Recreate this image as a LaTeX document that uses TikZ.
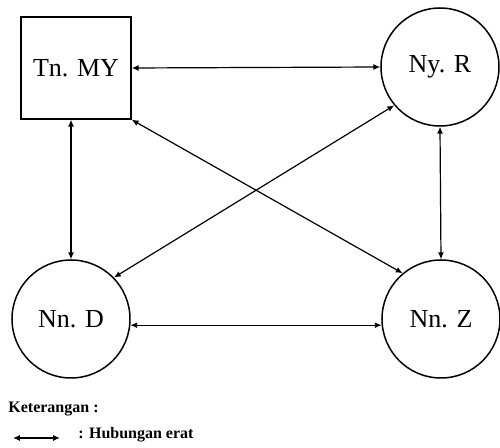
\documentclass[tikz,border=0pt]{standalone}
\usepackage{fontspec}
\setmainfont{Liberation Serif}
\usepackage{tikz}
\usetikzlibrary{positioning, arrows.meta}

\tikzset{
  person/.style={draw, line width=0.75pt, circle, minimum size=59pt, inner sep=0pt, font=\fontsize{13}{15}\selectfont},
  head/.style={draw, line width=0.75pt, rectangle, minimum width=55pt, minimum height=51pt, inner sep=0pt, font=\fontsize{13}{15}\selectfont},
  link/.style={{Latex[length=3.4pt,width=3pt]}-{Latex[length=3.4pt,width=3pt]}, line width=0.6pt},
  note/.style={anchor=west, inner sep=0pt, font=\fontsize{8}{9.5}\selectfont\bfseries}
}

\begin{document}
\begin{tikzpicture}[x=0.5pt, y=-0.5pt]
    \useasboundingbox (0,0) rectangle (500,448);

    % Family members
    \node[head]   (my) at (76,68)   {Tn. MY};
    \node[person] (r)  at (440,67)  {Ny. R};
    \node[person] (d)  at (71,319)  {Nn. D};
    \node[person] (z)  at (441,319) {Nn. Z};

    % Relations
    \draw[link] (my.east) -- (r.west);
    \draw[link] (my.south -| d.north) -- (d.north);
    \draw[link] (r.south) -- (z.north);
    \draw[link] (d.-6) -- (z.186);
    \draw[link] (my.south east) -- (z.130);
    \draw[link] (r.220) -- (d.44);

    % Legend
    \node[note] (ket) at (8,409) {Keterangan :};
    \coordinate (la) at (13,438);
    \coordinate (lb) at (60,438);
    \draw[link, line width=0.8pt] (la) -- (lb);
    \node[note] (hub) at (78,435) {: Hubungan erat};
\end{tikzpicture}
\end{document}
